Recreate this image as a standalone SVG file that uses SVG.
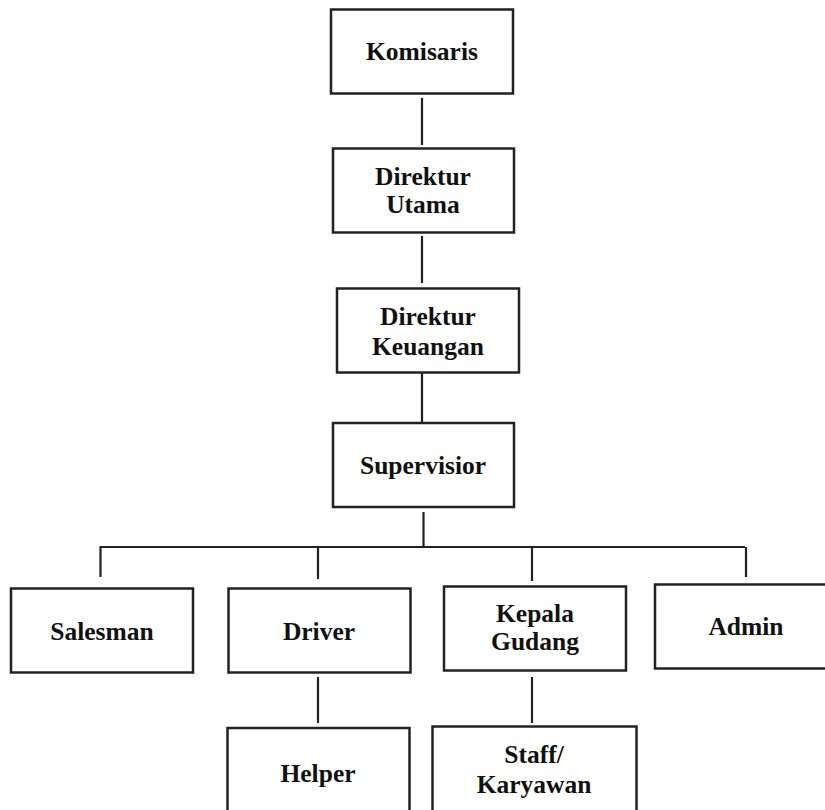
<svg xmlns="http://www.w3.org/2000/svg" width="825" height="810" viewBox="0 0 825 810">
<style>
.box{fill:#fff;stroke:#222;stroke-width:2.5}
.lbl{font-family:"Liberation Serif","Times New Roman",serif;font-weight:bold;font-size:25.5px;fill:#111;text-anchor:middle}
.conn{stroke:#222;stroke-width:2.2;fill:none}
</style>
<rect width="825" height="810" fill="#fff"/>
<g id="connectors">
<line class="conn" x1="422" y1="98" x2="422" y2="145"/>
<line class="conn" x1="422" y1="236" x2="422" y2="283"/>
<line class="conn" x1="422" y1="373" x2="422" y2="423"/>
<line class="conn" x1="423.5" y1="512" x2="423.5" y2="546"/>
<polyline class="conn" points="100.5,577 100.5,547 745,547"/>
<line class="conn" x1="318" y1="547" x2="318" y2="579"/>
<line class="conn" x1="532" y1="547" x2="532" y2="581"/>
<line class="conn" x1="746" y1="547" x2="746" y2="577"/>
<line class="conn" x1="318" y1="677" x2="318" y2="723"/>
<line class="conn" x1="532" y1="677" x2="532" y2="723"/>
</g>
<g id="komisaris">
<rect class="box" x="331" y="9.5" width="182" height="84"/>
<text class="lbl" x="422" y="60">Komisaris</text>
</g>
<g id="direktur-utama">
<rect class="box" x="333" y="148.5" width="181" height="84"/>
<text class="lbl" x="423" y="185">Direktur</text>
<text class="lbl" x="423" y="213">Utama</text>
</g>
<g id="direktur-keuangan">
<rect class="box" x="337" y="288.5" width="182" height="84"/>
<text class="lbl" x="428" y="325">Direktur</text>
<text class="lbl" x="428" y="355">Keuangan</text>
</g>
<g id="supervisior">
<rect class="box" x="333" y="423" width="181" height="84"/>
<text class="lbl" x="423" y="474">Supervisior</text>
</g>
<g id="salesman">
<rect class="box" x="11" y="588.5" width="182" height="84"/>
<text class="lbl" x="102" y="640">Salesman</text>
</g>
<g id="driver">
<rect class="box" x="228.5" y="588.5" width="182" height="84"/>
<text class="lbl" x="319" y="640">Driver</text>
</g>
<g id="kepala-gudang">
<rect class="box" x="444" y="586.5" width="182" height="84"/>
<text class="lbl" x="535" y="622">Kepala</text>
<text class="lbl" x="535" y="650">Gudang</text>
</g>
<g id="admin">
<rect class="box" x="655" y="584.5" width="182" height="84"/>
<text class="lbl" x="746" y="635">Admin</text>
</g>
<g id="helper">
<rect class="box" x="227.5" y="728" width="182" height="100"/>
<text class="lbl" x="318" y="782">Helper</text>
</g>
<g id="staff-karyawan">
<rect class="box" x="432.5" y="726.5" width="204" height="100"/>
<text class="lbl" x="534" y="763">Staff/</text>
<text class="lbl" x="534" y="793">Karyawan</text>
</g>
</svg>
